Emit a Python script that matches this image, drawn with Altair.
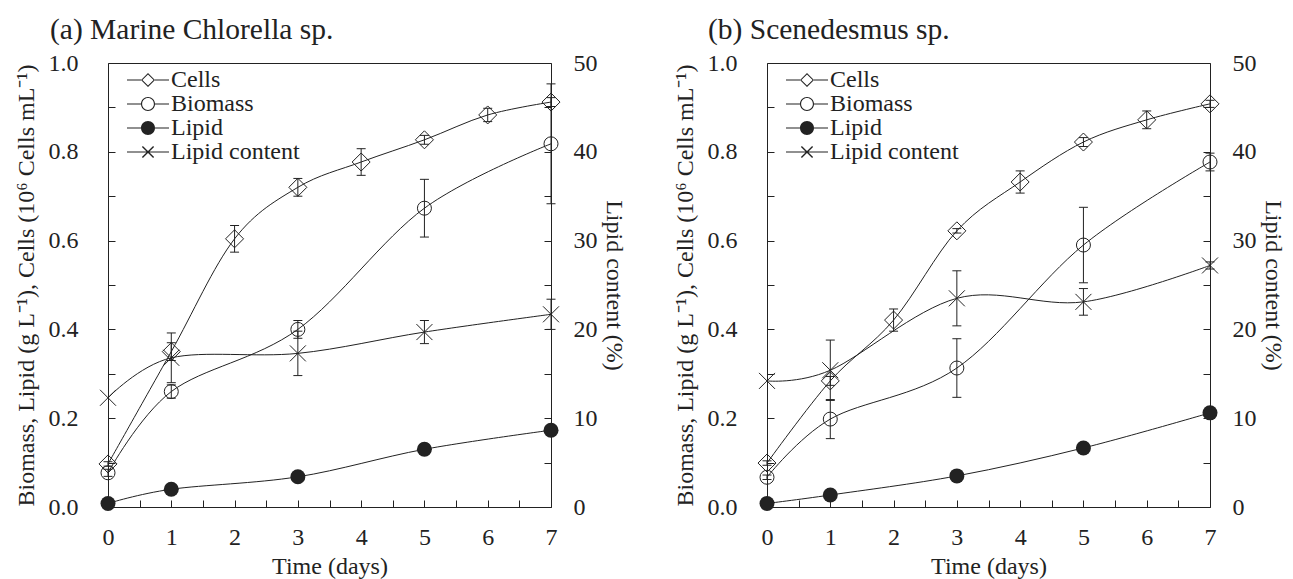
import altair as alt
import pandas as pd

FONT = "Liberation Serif"
INK = "#222222"

# ---------------- data ----------------
days_cells = [0, 1, 2, 3, 4, 5, 6, 7]
days = [0, 1, 3, 5, 7]

# (a) Marine Chlorella sp.
cells_a = [0.097, 0.350, 0.604, 0.720, 0.777, 0.827, 0.883, 0.912]
cells_a_err = [0.005, 0.020, 0.030, 0.020, 0.030, 0.010, 0.015, 0.010]
biomass_a = [0.077, 0.260, 0.400, 0.673, 0.818]
biomass_a_err = [0.008, 0.015, 0.020, 0.065, 0.135]
lipid_a = [0.008, 0.040, 0.068, 0.130, 0.173]
lipid_a_err = [0.0, 0.004, 0.004, 0.012, 0.006]
lipidc_a = [12.3, 16.8, 17.3, 19.7, 21.7]
lipidc_a_err = [0.0, 2.8, 2.5, 1.3, 1.7]

# (b) Scenedesmus sp.
cells_b = [0.099, 0.284, 0.421, 0.622, 0.732, 0.822, 0.872, 0.908]
cells_b_err = [0.005, 0.010, 0.025, 0.005, 0.025, 0.010, 0.020, 0.008]
biomass_b = [0.067, 0.198, 0.313, 0.590, 0.777]
biomass_b_err = [0.005, 0.044, 0.066, 0.085, 0.020]
lipid_b = [0.008, 0.027, 0.070, 0.133, 0.212]
lipid_b_err = [0.0, 0.0, 0.0, 0.0, 0.0]
lipidc_b = [14.2, 15.4, 23.5, 23.1, 27.2]
lipidc_b_err = [0.0, 3.4, 3.1, 1.5, 0.4]

series_names = ["Cells", "Biomass", "Lipid", "Lipid content"]
x_ticks = [i * 0.5 for i in range(15)]
y_left_ticks = [round(i * 0.1, 1) for i in range(11)]
y_right_ticks = [i * 5 for i in range(11)]

# legend glyphs: line + marker, drawn as filled geometry (unit = sqrt(size)/2 px)
LINE_L = "M-3,-0.07L-1,-0.07L-1,0.07L-3,0.07Z"
LINE_R = "M1,-0.07L3,-0.07L3,0.07L1,0.07Z"
LINE_FULL = "M-3,-0.07L3,-0.07L3,0.07L-3,0.07Z"
DIAMOND_RING = "M0,-1L1,0L0,1L-1,0ZM0,-0.8L-0.8,0L0,0.8L0.8,0Z"
CIRCLE_OUT = "M1,0A1,1,0,1,1,-1,0A1,1,0,1,1,1,0Z"
CIRCLE_IN = "M0.84,0A0.84,0.84,0,1,0,-0.84,0A0.84,0.84,0,1,0,0.84,0Z"
X_ARMS = ("M-0.73,-0.87L0.87,0.73L0.73,0.87L-0.87,-0.73Z"
          "M0.87,-0.73L-0.73,0.87L-0.87,0.73L0.73,-0.87Z")
legend_paths = [
    LINE_L + LINE_R + DIAMOND_RING,
    LINE_L + LINE_R + CIRCLE_OUT + CIRCLE_IN,
    LINE_L + LINE_R + CIRCLE_OUT,
    LINE_FULL + X_ARMS,
]
X_SHAPE = "M-1,-1L1,1M1,-1L-1,1"


def axis_common():
    return dict(grid=False, domain=False, ticks=True, tickSize=7, offset=-7, tickColor=INK,
                tickWidth=1, tickOpacity=1, zindex=1, labelColor=INK, titleColor=INK,
                labelFont=FONT, titleFont=FONT, labelFontSize=24, titleFontSize=24,
                titleFontWeight="normal", labelOverlap=False, labelFlush=False)


x_axis = alt.Axis(values=x_ticks,
                  labelExpr="datum.value % 1 == 0 ? format(datum.value, 'd') : ''",
                  labelPadding=18, titlePadding=5, title="Time (days)",
                  **axis_common())
y_left_axis = alt.Axis(orient="left", values=y_left_ticks,
                       labelExpr="round(datum.value * 10) % 2 == 0 ? format(datum.value, '.1f') : ''",
                       labelPadding=30, titlePadding=10,
                       title="Biomass, Lipid (g L⁻¹), Cells (10⁶ Cells mL⁻¹)",
                       **axis_common())
y_right_axis = alt.Axis(orient="right", values=y_right_ticks,
                        labelExpr="datum.value % 10 == 0 ? format(datum.value, 'd') : ''",
                        labelPadding=22, titlePadding=4, title="Lipid content (%)",
                        **axis_common())

x_scale = alt.Scale(domain=[0, 7], nice=False, zero=False)
yl_scale = alt.Scale(domain=[0, 1], nice=False)
yr_scale = alt.Scale(domain=[0, 50], nice=False)


def rows(name, xs, vals, errs):
    return [dict(series=name, day=d, value=v, lo=v - e, hi=v + e, err=e)
            for d, v, e in zip(xs, vals, errs)]


def panel(title, dx, cells, cells_err, biomass, biomass_err, lipid, lipid_err, lc, lc_err):
    left_df = pd.DataFrame(rows("Cells", days_cells, cells, cells_err)
                           + rows("Biomass", days, biomass, biomass_err)
                           + rows("Lipid", days, lipid, lipid_err))
    right_df = pd.DataFrame(rows("Lipid content", days, lc, lc_err))
    left_err = left_df[left_df.err > 0]
    right_err = right_df[right_df.err > 0]

    X = alt.X("day:Q", scale=x_scale, axis=x_axis)
    YL = alt.Y("value:Q", scale=yl_scale, axis=y_left_axis)
    YR = alt.Y("value:Q", scale=yr_scale, axis=y_right_axis)

    base_l = alt.Chart(left_df)
    lines_l = base_l.mark_line(interpolate="cardinal", color=INK, strokeWidth=1).encode(
        x=X, y=YL, detail="series:N", order="day:Q")
    err_rule_l = alt.Chart(left_err).mark_rule(color=INK, strokeWidth=1).encode(
        x=X, y=alt.Y("lo:Q", scale=yl_scale, axis=y_left_axis), y2="hi:Q")
    cap_lo_l = alt.Chart(left_err).mark_tick(orient="horizontal", size=9, thickness=1,
                                              color=INK, opacity=1).encode(
        x=X, y=alt.Y("lo:Q", scale=yl_scale, axis=y_left_axis))
    cap_hi_l = alt.Chart(left_err).mark_tick(orient="horizontal", size=9, thickness=1,
                                              color=INK, opacity=1).encode(
        x=X, y=alt.Y("hi:Q", scale=yl_scale, axis=y_left_axis))
    pts_cells = base_l.transform_filter(alt.datum.series == "Cells").mark_point(
        shape="diamond", size=324, filled=False, stroke=INK, strokeWidth=1, opacity=1).encode(x=X, y=YL)
    pts_bio = base_l.transform_filter(alt.datum.series == "Biomass").mark_point(
        shape="circle", size=196, filled=False, stroke=INK, strokeWidth=1, opacity=1).encode(x=X, y=YL)
    pts_lip = base_l.transform_filter(alt.datum.series == "Lipid").mark_point(
        shape="circle", size=225, filled=True, color=INK, opacity=1).encode(x=X, y=YL)

    legend_df = pd.DataFrame({"series": series_names})
    legend_layer = alt.Chart(legend_df).mark_point(filled=True, color=INK, opacity=0).encode(
        shape=alt.Shape("series:N", sort=series_names,
                        scale=alt.Scale(domain=series_names, range=legend_paths),
                        legend=alt.Legend(orient="none", legendX=28, legendY=5, title=None,
                                          labelFont=FONT, labelFontSize=24, labelColor=INK,
                                          symbolSize=196, symbolOpacity=1, symbolStrokeWidth=0,
                                          labelOffset=11, rowPadding=0, padding=0,
                                          labelLimit=400)))

    left = alt.layer(lines_l, err_rule_l, cap_lo_l, cap_hi_l, pts_cells, pts_bio, pts_lip,
                     legend_layer)

    base_r = alt.Chart(right_df)
    lines_r = base_r.mark_line(interpolate="cardinal", color=INK, strokeWidth=1).encode(
        x=X, y=YR, order="day:Q")
    err_rule_r = alt.Chart(right_err).mark_rule(color=INK, strokeWidth=1).encode(
        x=X, y=alt.Y("lo:Q", scale=yr_scale, axis=y_right_axis), y2="hi:Q")
    cap_lo_r = alt.Chart(right_err).mark_tick(orient="horizontal", size=9, thickness=1,
                                               color=INK, opacity=1).encode(
        x=X, y=alt.Y("lo:Q", scale=yr_scale, axis=y_right_axis))
    cap_hi_r = alt.Chart(right_err).mark_tick(orient="horizontal", size=9, thickness=1,
                                               color=INK, opacity=1).encode(
        x=X, y=alt.Y("hi:Q", scale=yr_scale, axis=y_right_axis))
    pts_lc = base_r.mark_point(shape=X_SHAPE, size=256, filled=False, stroke=INK,
                               strokeWidth=1, opacity=1).encode(x=X, y=YR)
    right = alt.layer(lines_r, err_rule_r, cap_lo_r, cap_hi_r, pts_lc)

    return alt.layer(left, right).resolve_scale(y="independent").properties(
        width=443, height=444,
        title=alt.TitleParams(title, anchor="start", frame="group", dx=dx, offset=6,
                              font=FONT, fontSize=29.5, fontWeight="normal", color=INK))


pa = panel("(a) Marine Chlorella sp.", -58, cells_a, cells_a_err, biomass_a, biomass_a_err,
           lipid_a, lipid_a_err, lipidc_a, lipidc_a_err)
pb = panel("(b) Scenedesmus sp.", -59, cells_b, cells_b_err, biomass_b, biomass_b_err,
           lipid_b, lipid_b_err, lipidc_b, lipidc_b_err)

chart = alt.hconcat(pa, pb, spacing=46).resolve_scale(shape="independent").resolve_legend(
    shape="independent").properties(
    padding={"left": 13, "top": 14, "right": 5, "bottom": 0}, background="white"
).configure_view(stroke=INK, strokeWidth=1)

chart.save("out.html", embed_options={"renderer": "svg", "actions": False})
